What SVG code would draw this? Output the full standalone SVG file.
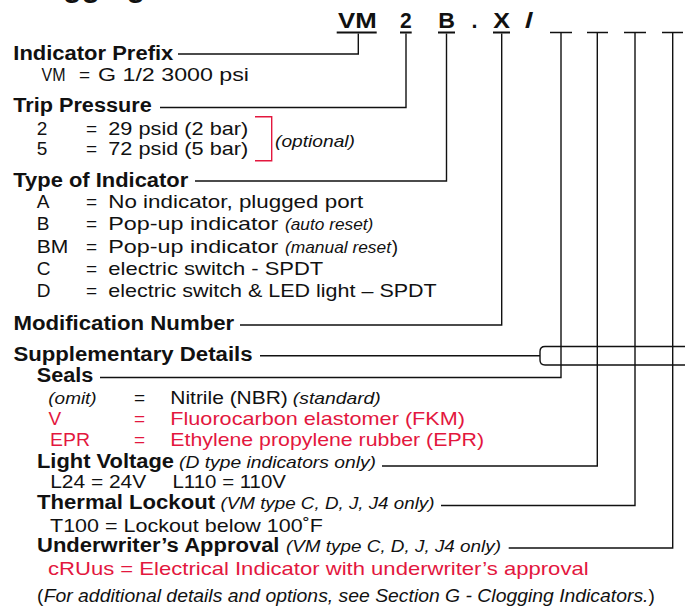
<svg xmlns="http://www.w3.org/2000/svg" width="685" height="612" viewBox="0 0 685 612">
<style>
text{font-family:"Liberation Sans",Arial,sans-serif;fill:#111}
.b{font-weight:bold;font-size:19.5px}
.r{font-size:19px}
.i{font-style:italic;font-size:17px}
.h{font-weight:bold;font-size:21.5px}
.red{fill:#e3173e}
.ln{stroke:#111;stroke-width:1.4;fill:none}
.ul{stroke:#111;stroke-width:2;fill:none}
</style>
<rect width="685" height="612" fill="#fff"/>
<g id="title">
<text class="b" x="15" y="-3.5" style="font-size:30px">Clogging Indicator</text>
</g>
<g id="code">
<text class="h" x="338" y="27.5" textLength="38.7" lengthAdjust="spacingAndGlyphs">VM</text>
<text class="h" x="400" y="27.5" textLength="11.7" lengthAdjust="spacingAndGlyphs">2</text>
<text class="h" x="438.3" y="27.5" textLength="16.7" lengthAdjust="spacingAndGlyphs">B</text>
<text class="h" x="471.5" y="27.5">.</text>
<text class="h" x="493.3" y="27.5" textLength="16.7" lengthAdjust="spacingAndGlyphs">X</text>
<text class="h" x="525" y="27.5" textLength="8.3" lengthAdjust="spacingAndGlyphs">/</text>
<path class="ul" d="M336.7 32.5H376.7M400 32.5H411.7M438 32.5H455M493 32.5H510"/>
<path class="ln" d="M550 32.5H572M587 32.5H608M624 32.5H646M662 32.5H683"/>
</g>
<g id="indicator-prefix">
<text class="b" x="13.3" y="59.5" textLength="160" lengthAdjust="spacingAndGlyphs">Indicator Prefix</text>
<text class="r" x="41.5" y="80.5" textLength="24" lengthAdjust="spacingAndGlyphs">VM</text>
<text class="r" x="79" y="80.5">=</text>
<text class="r" x="98" y="80.5" textLength="151" lengthAdjust="spacingAndGlyphs">G 1/2 3000 psi</text>
</g>
<g id="trip-pressure">
<text class="b" x="13.3" y="111.7" textLength="138.4" lengthAdjust="spacingAndGlyphs">Trip Pressure</text>
<text class="r" x="36.7" y="135">2</text>
<text class="r" x="86" y="135">=</text>
<text class="r" x="108.3" y="135" textLength="140" lengthAdjust="spacingAndGlyphs">29 psid (2 bar)</text>
<text class="r" x="36.7" y="155">5</text>
<text class="r" x="86" y="155">=</text>
<text class="r" x="108.3" y="155" textLength="140" lengthAdjust="spacingAndGlyphs">72 psid (5 bar)</text>
<path d="M255 116.7H271.7V160.7H255" fill="none" stroke="#e3173e" stroke-width="1.4"/>
<text class="i" x="275" y="146.7" textLength="80" lengthAdjust="spacingAndGlyphs">(optional)</text>
</g>
<g id="type-of-indicator">
<text class="b" x="13.3" y="186.7" textLength="175" lengthAdjust="spacingAndGlyphs">Type of Indicator</text>
<text class="r" x="36.7" y="208.3">A</text>
<text class="r" x="86" y="208.3">=</text>
<text class="r" x="108.3" y="208.3" textLength="255" lengthAdjust="spacingAndGlyphs">No indicator, plugged port</text>
<text class="r" x="36.7" y="230">B</text>
<text class="r" x="86" y="230">=</text>
<text class="r" x="108.3" y="230" textLength="170" lengthAdjust="spacingAndGlyphs">Pop-up indicator</text>
<text class="i" x="285" y="230" textLength="88.3" lengthAdjust="spacingAndGlyphs">(auto reset)</text>
<text class="r" x="36.7" y="252.5" textLength="31.6" lengthAdjust="spacingAndGlyphs">BM</text>
<text class="r" x="86" y="252.5">=</text>
<text class="r" x="108.3" y="252.5" textLength="170" lengthAdjust="spacingAndGlyphs">Pop-up indicator</text>
<text class="i" x="285" y="252.5" textLength="106" lengthAdjust="spacingAndGlyphs">(manual reset</text>
<text class="r" x="391.7" y="252.5">)</text>
<text class="r" x="36.7" y="275">C</text>
<text class="r" x="86" y="275">=</text>
<text class="r" x="108.3" y="275" textLength="215" lengthAdjust="spacingAndGlyphs">electric switch - SPDT</text>
<text class="r" x="36.7" y="297">D</text>
<text class="r" x="86" y="297">=</text>
<text class="r" x="108.3" y="297" textLength="328.4" lengthAdjust="spacingAndGlyphs">electric switch &amp; LED light – SPDT</text>
</g>
<g id="modification-number">
<text class="b" x="13.4" y="330" textLength="220.8" lengthAdjust="spacingAndGlyphs">Modification Number</text>
</g>
<g id="supplementary-details">
<text class="b" x="13.4" y="360.7" textLength="239.2" lengthAdjust="spacingAndGlyphs">Supplementary Details</text>
</g>
<g id="seals">
<text class="b" x="36.7" y="381.7" textLength="56.6" lengthAdjust="spacingAndGlyphs">Seals</text>
<text class="i" x="48.3" y="403.5" textLength="48.4" lengthAdjust="spacingAndGlyphs">(omit)</text>
<text class="r" x="134" y="403.5">=</text>
<text class="r" x="170.3" y="403.5" textLength="117.5" lengthAdjust="spacingAndGlyphs">Nitrile (NBR)</text>
<text class="i" x="292.8" y="403.5" textLength="88" lengthAdjust="spacingAndGlyphs">(standard)</text>
<text class="r red" x="48.5" y="424.5">V</text>
<text class="r red" x="134" y="424.5">=</text>
<text class="r red" x="170.3" y="424.5" textLength="294.7" lengthAdjust="spacingAndGlyphs">Fluorocarbon elastomer (FKM)</text>
<text class="r red" x="50" y="445.5" textLength="40" lengthAdjust="spacingAndGlyphs">EPR</text>
<text class="r red" x="134" y="445.5">=</text>
<text class="r red" x="170.3" y="445.5" textLength="313.8" lengthAdjust="spacingAndGlyphs">Ethylene propylene rubber (EPR)</text>
</g>
<g id="light-voltage">
<text class="b" x="37" y="467.5" textLength="137" lengthAdjust="spacingAndGlyphs">Light Voltage</text>
<text class="i" x="179" y="467.5" textLength="197" lengthAdjust="spacingAndGlyphs">(D type indicators only)</text>
<text class="r" x="50.2" y="487.5" textLength="96" lengthAdjust="spacingAndGlyphs">L24 = 24V</text>
<text class="r" x="172.5" y="487.5" textLength="113.5" lengthAdjust="spacingAndGlyphs">L110 = 110V</text>
</g>
<g id="thermal-lockout">
<text class="b" x="37" y="509.3" textLength="178" lengthAdjust="spacingAndGlyphs">Thermal Lockout</text>
<text class="i" x="220.5" y="509.3" textLength="214" lengthAdjust="spacingAndGlyphs">(VM type C, D, J, J4 only)</text>
<text class="r" x="50" y="531.7" textLength="273" lengthAdjust="spacingAndGlyphs">T100 = Lockout below 100˚F</text>
</g>
<g id="underwriters-approval">
<text class="b" x="37" y="551.7" textLength="242.5" lengthAdjust="spacingAndGlyphs">Underwriter’s Approval</text>
<text class="i" x="286" y="551.7" textLength="215" lengthAdjust="spacingAndGlyphs">(VM type C, D, J, J4 only)</text>
<text class="r red" x="48" y="575" textLength="540.6" lengthAdjust="spacingAndGlyphs">cRUus = Electrical Indicator with underwriter’s approval</text>
</g>
<g id="footnote">
<text class="r" x="37" y="601.7">(</text>
<text class="i" x="43.7" y="601.7" style="font-size:17.5px" textLength="604.8" lengthAdjust="spacingAndGlyphs">For additional details and options, see Section G - Clogging Indicators.</text>
<text class="r" x="648.5" y="601.7">)</text>
</g>
<g id="connectors" class="ln">
<path d="M358.3 33.5V54H178"/>
<path d="M406 33.5V107.5H160"/>
<path d="M446.5 33.5V181H195"/>
<path d="M501.7 33.5V325H240"/>
<path d="M260 355.7H540"/>
<path d="M685 346.5H545Q540 346.5 540 351.5V360Q540 365 545 365H685"/>
<path d="M561 32.5V377.5H100"/>
<path d="M597.3 32.5V466H382"/>
<path d="M635 32.5V505.5H441"/>
<path d="M672.7 32.5V548H508.7"/>
</g>
</svg>
